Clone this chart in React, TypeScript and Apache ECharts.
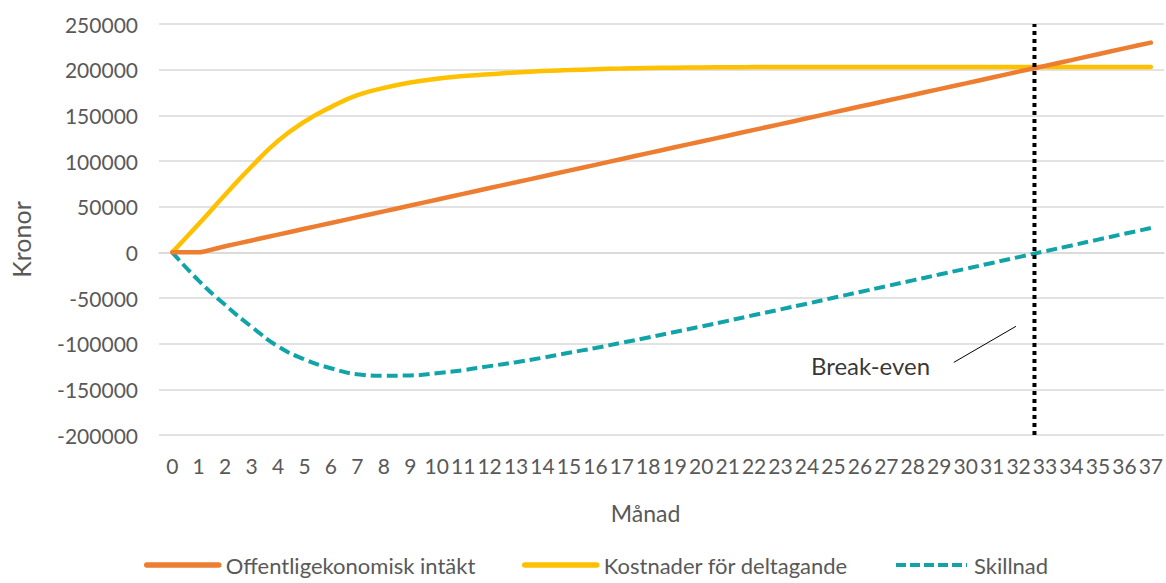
import React, { useEffect, useRef } from "react";
import * as echarts from "echarts";

const months: string[] = [
  "0","1","2","3","4","5","6","7","8","9","10","11","12","13","14","15","16","17","18","19",
  "20","21","22","23","24","25","26","27","28","29","30","31","32","33","34","35","36","37",
];

const intakt: number[] = [
  0, 0, 6600, 13000, 19400, 25800, 32100, 38500, 44900, 51200,
  57600, 64000, 70400, 76700, 83100, 89500, 95800, 102200, 108600, 115000,
  121300, 127700, 134100, 140400, 146800, 153200, 159600, 165900, 172300, 178700,
  185000, 191400, 197800, 204200, 210500, 216900, 223300, 229600,
];

const kostnader: number[] = [
  0, 31000, 63000, 94000, 122000, 143000, 159000, 172000, 180000, 186000,
  190000, 193000, 195000, 197000, 198500, 199500, 200500, 201200, 201800, 202200,
  202500, 202700, 202800, 202900, 203000, 203000, 203000, 203000, 203000, 203000,
  203000, 203000, 203000, 203000, 203000, 203000, 203000, 203000,
];

const skillnad: number[] = [
  0, -31000, -57500, -81500, -103000, -117200, -126900, -133500, -135100, -134800,
  -132400, -129000, -124600, -120300, -115400, -110000, -104700, -99000, -93200, -87200,
  -81200, -75000, -68700, -62500, -56200, -49800, -43400, -37100, -30700, -24300,
  -18000, -11600, -5200, 1200, 7500, 13900, 20300, 26600,
];

const seriesNames: string[] = ["Offentligekonomisk intäkt", "Kostnader för deltagande", "Skillnad"];
const seriesColors: string[] = ["#ED7D31", "#FFC000", "#10A3A8"];

const breakEvenMonth = 32.6;
const yMin = -200000;
const yMax = 250000;
const yInterval = 50000;

const breakEvenLabel = "Break-even";
const labelPoint: [number, number] = [26.4, -123500];
const leaderLine: [number, number][] = [[29.55, -120500], [31.9, -81000]];

const FONT = "Lato, 'Open Sans', sans-serif";
const GRAY = "#595959";

export default function App() {
  const ref = useRef<HTMLDivElement>(null);

  useEffect(() => {
    if (!ref.current) return;
    const chart = echarts.init(ref.current, undefined, { renderer: "svg" });
    const legendCommon = {
      top: 554,
      padding: 0,
      itemWidth: 72,
      itemHeight: 22,
      itemStyle: { opacity: 0 },
      textStyle: { color: GRAY, fontSize: 22, fontFamily: FONT, padding: [0, 0, 0, 2] },
      selectedMode: false as const,
    };
    chart.setOption({
      animation: false,
      backgroundColor: "#ffffff",
      textStyle: { fontFamily: FONT },
      grid: { left: 158, right: 1, top: 24, bottom: 148, containLabel: false },
      legend: [
        { ...legendCommon, left: 144, lineStyle: { width: 5.5, cap: "round" }, data: [seriesNames[0]] },
        { ...legendCommon, left: 522, lineStyle: { width: 5.5, cap: "round" }, data: [seriesNames[1]] },
        { ...legendCommon, left: 894, itemWidth: 71, lineStyle: { width: 4, type: [10, 4] }, data: [seriesNames[2]] },
      ],
      xAxis: [
        {
          type: "category",
          data: months,
          boundaryGap: true,
          name: "Månad",
          nameLocation: "middle",
          nameGap: 66,
          nameTextStyle: { color: GRAY, fontSize: 23, fontFamily: FONT, padding: [0, 32, 0, 0] },
          axisLine: { show: true, lineStyle: { color: "#d9d9d9", width: 1.5 } },
          axisTick: { show: false },
          axisLabel: { color: GRAY, fontSize: 21, fontFamily: FONT, margin: 20, interval: 0 },
          splitLine: { show: false },
        },
        {
          type: "value",
          min: -0.5,
          max: 37.5,
          show: false,
          splitLine: { show: false },
        },
      ],
      yAxis: {
        type: "value",
        min: yMin,
        max: yMax,
        interval: yInterval,
        name: "Kronor",
        nameLocation: "middle",
        nameGap: 126,
        nameTextStyle: { color: GRAY, fontSize: 25, fontFamily: FONT, padding: [0, 20, 0, 0] },
        axisLine: { show: false },
        axisTick: { show: false },
        axisLabel: {
          color: GRAY,
          fontSize: 21,
          fontFamily: FONT,
          margin: 21,
          formatter: (v: number) => String(v),
        },
        splitLine: { show: true, lineStyle: { color: "#d9d9d9", width: 1.5 } },
      },
      series: [
        {
          name: seriesNames[0],
          type: "line",
          data: intakt,
          symbol: "none",
          smooth: 0.15,
          color: seriesColors[0],
          itemStyle: { color: seriesColors[0] },
          lineStyle: { color: seriesColors[0], width: 4.5, cap: "round" },
          z: 3,
        },
        {
          name: seriesNames[1],
          type: "line",
          data: kostnader,
          symbol: "none",
          smooth: 0.5,
          color: seriesColors[1],
          itemStyle: { color: seriesColors[1] },
          lineStyle: { color: seriesColors[1], width: 4.5, cap: "round" },
          z: 2,
        },
        {
          name: seriesNames[2],
          type: "line",
          data: skillnad,
          symbol: "none",
          smooth: 0.5,
          color: seriesColors[2],
          itemStyle: { color: seriesColors[2] },
          lineStyle: { color: seriesColors[2], width: 4, type: [11, 5] },
          z: 2,
        },
        {
          name: "breakeven",
          type: "line",
          xAxisIndex: 1,
          data: [[breakEvenMonth, yMin], [breakEvenMonth, yMax]],
          symbol: "none",
          lineStyle: { color: "#000000", width: 4, type: [4, 4] },
          z: 4,
          silent: true,
        },
        {
          name: "leader",
          type: "line",
          xAxisIndex: 1,
          data: leaderLine,
          symbol: "none",
          lineStyle: { color: "#000000", width: 1 },
          silent: true,
        },
        {
          name: "label",
          type: "scatter",
          xAxisIndex: 1,
          data: [labelPoint],
          symbolSize: 0,
          silent: true,
          label: {
            show: true,
            position: "inside",
            formatter: breakEvenLabel,
            color: "#000000",
            fontSize: 24,
            fontFamily: FONT,
          },
        },
      ],
    });
    return () => chart.dispose();
  }, []);

  return <div ref={ref} style={{ width: 1166, height: 583, position: "absolute", left: 0, top: 0 }} />;
}
